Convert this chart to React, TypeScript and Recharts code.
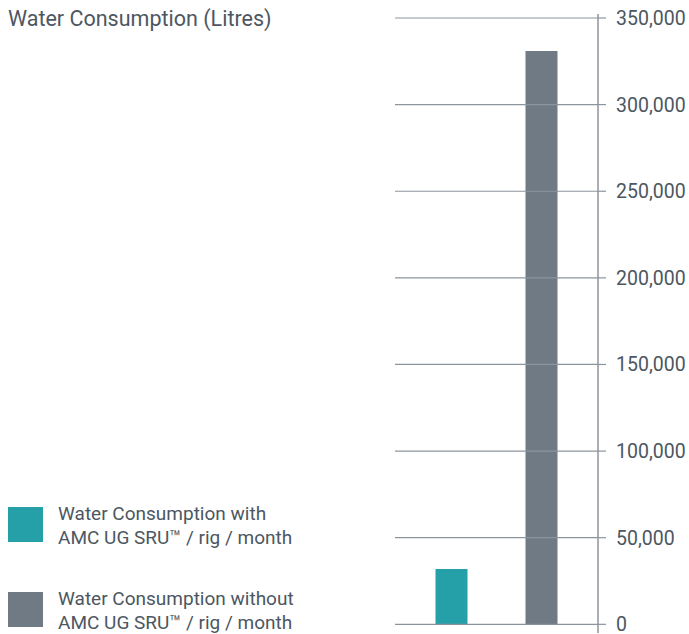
import { BarChart, Bar, XAxis, YAxis, ReferenceLine, Cell } from 'recharts'

const categories = ['with', 'without']
const values = [32000, 331000]
const legendLines = [
  ['Water Consumption with', 'AMC UG SRU™ / rig / month'],
  ['Water Consumption without', 'AMC UG SRU™ / rig / month'],
]
const yTicks = [0, 50000, 100000, 150000, 200000, 250000, 300000, 350000]
const title = 'Water Consumption (Litres)'

const barColors = ['#25a0a9', '#6f7a84']
const lineColor = '#8c959d'
const textColor = '#4c5761'
const font = 'Roboto, "Noto Sans", sans-serif'

const data = categories.map((name, i) => ({ name, value: values[i] }))

export default function App() {
  return (
    <div style={{ position: 'absolute', left: 0, top: 0, width: 689, height: 634, background: '#fff', fontFamily: font }}>
      {/* Title */}
      <div style={{ position: 'absolute', left: 8, top: 8, fontSize: 21.5, lineHeight: 1, color: textColor, whiteSpace: 'nowrap' }}>
        {title}
      </div>

      {/* Legend */}
      {legendLines.map((lines, i) => (
        <div key={i} style={{ position: 'absolute', left: 8, top: i === 0 ? 501.5 : 586.5, display: 'flex' }}>
          <div style={{ width: 35, height: 35, background: barColors[i], marginTop: 5.5 }} />
          <div style={{ marginLeft: 15, fontSize: 19, lineHeight: '24px', color: textColor, whiteSpace: 'nowrap' }}>
            {lines.map((l) => (
              <div key={l}>{l}</div>
            ))}
          </div>
        </div>
      ))}

      {/* Chart */}
      <div style={{ position: 'absolute', left: 0, top: 0 }}>
        <BarChart width={689} height={634} data={data} margin={{ top: 14, right: 6, left: 395, bottom: 1 }}>
          <XAxis dataKey="name" hide padding={{ left: 11.5, right: 11.5 }} />
          <YAxis
            orientation="right"
            width={85}
            domain={[-5000, 352300]}
            ticks={yTicks}
            interval={0}
            tickSize={8}
            tickMargin={10}
            axisLine={{ stroke: lineColor, strokeWidth: 1.5 }}
            tickLine={{ stroke: lineColor, strokeWidth: 1.2 }}
            tick={{ fill: textColor, fontSize: 19.5, fontFamily: font }}
            tickFormatter={(v: number) => v.toLocaleString('en-US')}
          />
          {yTicks.map((t) => (
            <ReferenceLine key={t} y={t} stroke={lineColor} strokeWidth={1.2} />
          ))}
          <Bar dataKey="value" barSize={32} isAnimationActive={false}>
            {data.map((d, i) => (
              <Cell key={d.name} fill={barColors[i]} />
            ))}
          </Bar>
        </BarChart>
      </div>
    </div>
  )
}
